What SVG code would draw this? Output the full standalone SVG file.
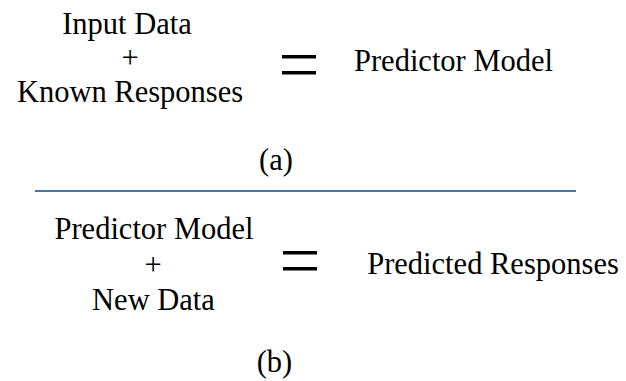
<svg xmlns="http://www.w3.org/2000/svg" width="626" height="381" viewBox="0 0 626 381" font-family="'Liberation Serif', 'Times New Roman', Times, serif">
<style>
text{font-family:"Liberation Serif","Times New Roman",Times,serif;font-size:30.5px;fill:#000;text-anchor:middle}
.eq{fill:#000}
.sep{stroke:#4a74aa;stroke-width:2}
</style>
<rect width="626" height="381" fill="#fff"/>
<g id="part-a">
<g id="inputs-a">
<text x="127" y="34">Input Data</text>
<text x="130" y="68">+</text>
<text x="130" y="102">Known Responses</text>
</g>
<g id="equals-a">
<rect class="eq" x="282" y="55" width="34" height="3.5"/>
<rect class="eq" x="282" y="71" width="34" height="3.5"/>
</g>
<g id="result-a">
<text x="453.5" y="71">Predictor Model</text>
</g>
<g id="label-a">
<text x="276" y="169.5">(a)</text>
</g>
</g>
<g id="connectors">
<line class="sep" x1="35" y1="191" x2="576" y2="191"/>
</g>
<g id="part-b">
<g id="inputs-b">
<text x="154" y="239">Predictor Model</text>
<text x="153" y="274.5">+</text>
<text x="153.5" y="310">New Data</text>
</g>
<g id="equals-b">
<rect class="eq" x="283" y="251" width="34" height="3.5"/>
<rect class="eq" x="283" y="267" width="34" height="3.5"/>
</g>
<g id="result-b">
<text x="493" y="274">Predicted Responses</text>
</g>
<g id="label-b">
<text x="274.5" y="371.5">(b)</text>
</g>
</g>
</svg>
